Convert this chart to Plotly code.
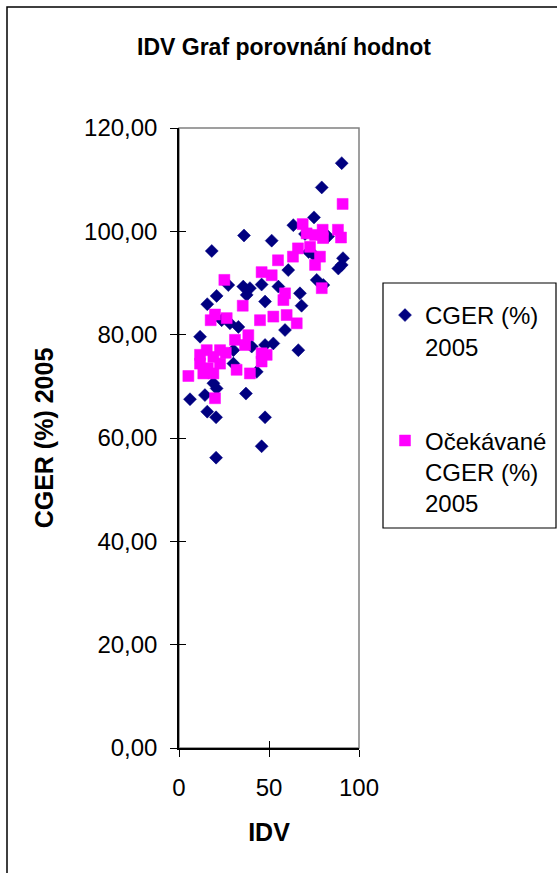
import plotly.graph_objects as go

# ---- data ----
cger_idv = [90.4, 79.3, 75.0, 63.5, 51.5, 91.1, 82.8, 18.2, 36.1,
            88.5, 90.4, 60.7, 76.5, 80.2, 55.2, 67.2, 68.1, 58.9, 52.4, 66.3, 47.8,
            27.4, 35.7, 39.4, 37.6, 45.9, 20.9, 15.7, 28.3, 33.0, 11.7, 23.7, 30.2, 40.4, 47.8,
            19.1, 20.9, 6.1, 14.4, 37.2, 15.7, 20.6, 47.8, 45.9, 20.6, 43.2, 30.2,
            70.0, 72.0, 75.6]
cger_val = [113.2, 108.5, 102.7, 101.2, 98.2, 94.8, 99.0, 96.2, 99.2,
            92.8, 93.5, 92.5, 90.6, 89.6, 89.3, 88.0, 85.6, 80.9, 78.3, 77.0, 86.4,
            89.6, 89.3, 89.0, 87.7, 89.7, 87.5, 85.9, 82.2, 81.5, 79.6, 82.8, 77.0, 77.7, 78.0,
            70.6, 69.6, 67.5, 68.3, 68.6, 65.1, 64.0, 64.0, 58.4, 56.2, 72.8, 74.4,
            99.5, 96.0, 95.2]

exp_idv = [90.9, 68.7, 88.3, 90.0, 79.8, 80.0, 70.9, 75.6, 66.1, 72.8, 63.3, 78.3, 55.0, 75.6,
           45.9, 51.5, 58.9, 58.0, 79.3, 52.4, 59.8, 65.4, 48.7,
           25.2, 35.4, 45.0, 20.0, 17.6, 26.5, 31.1, 38.5, 36.7, 15.4, 22.8, 11.7, 19.1, 45.9,
           5.2, 20.0, 32.0, 39.4, 13.5, 19.1, 11.7, 22.8, 45.9, 16.0, 26.0]
exp_val = [105.3, 101.4, 100.3, 98.8, 100.3, 98.7, 99.6, 99.3, 96.7, 97.0, 95.1, 95.1, 94.4, 93.5,
           92.1, 91.5, 88.0, 86.7, 89.0, 83.5, 83.8, 82.2, 76.1,
           90.6, 85.6, 82.8, 83.9, 82.8, 83.2, 79.0, 79.9, 78.0, 77.0, 77.0, 76.1, 75.7, 76.4,
           72.0, 67.7, 73.2, 72.5, 72.5, 72.5, 74.4, 74.4, 74.8, 73.5, 76.5]

series_names = ["CGER (%)<br>2005", "Očekávané<br>CGER (%)<br>2005"]
x_ticks = [0, 50, 100]
y_ticks = [0, 20, 40, 60, 80, 100, 120]

FONT = "Liberation Sans, Arial, sans-serif"
W, H = 557, 873
L, R, T, B = 179, 198, 128, 125
PW, PH = W - L - R, H - T - B


def px_x(p):
    return (p - L) / PW


def px_y(p):
    return (H - B - p) / PH


fig = go.Figure()
fig.add_trace(go.Scatter(
    x=cger_idv, y=cger_val, mode="markers", name=series_names[0],
    legendgroup="a",
    marker=dict(symbol="diamond", size=10, color="#000080",
                line=dict(width=0.5, color="#000080"))))
fig.add_trace(go.Scatter(
    x=exp_idv, y=exp_val, mode="markers", name=series_names[1],
    legendgroup="b",
    marker=dict(symbol="square", size=11, color="#FF00FF",
                line=dict(width=0.5, color="#FF00FF"))))
# invisible trace so the overlay (inside-tick) axes get drawn
fig.add_trace(go.Scatter(x=[None], y=[None], xaxis="x2", yaxis="y2",
                         showlegend=False, hoverinfo="skip"))

fig.update_layout(
    width=W, height=H,
    margin=dict(l=L, r=R, t=T, b=B, autoexpand=False),
    paper_bgcolor="white", plot_bgcolor="white",
    separators=", ",
    font=dict(family=FONT, color="black", size=24),
    title=dict(text="<b>IDV Graf porovnání hodnot</b>",
               font=dict(family=FONT, size=23, color="black"),
               x=284 / W, xanchor="center", xref="container",
               y=1 - 47 / H, yanchor="middle", yref="container"),
    xaxis=dict(range=[0, 100], tickvals=x_ticks, ticks="outside", ticklen=7,
               tickcolor="black", tickwidth=1.3,
               showline=True, linecolor="black", linewidth=1.5,
               showgrid=False, zeroline=False,
               tickfont=dict(size=24), ticklabelstandoff=10,
               title=dict(text="<b>IDV</b>", font=dict(size=25), standoff=24)),
    yaxis=dict(range=[0, 120], tickvals=y_ticks, tickformat=".2f",
               ticks="outside", ticklen=7, tickcolor="black", tickwidth=1.3,
               showline=True, linecolor="black", linewidth=1.5,
               showgrid=False, zeroline=False,
               tickfont=dict(size=24), ticklabelstandoff=8,
               title=dict(text="<b>CGER (%) 2005</b>", font=dict(size=25), standoff=23)),
    xaxis2=dict(range=[0, 100], tickvals=x_ticks, overlaying="x", side="bottom",
                anchor="y", ticks="inside", ticklen=7, tickcolor="black", tickwidth=1.3,
                showticklabels=False, showgrid=False, zeroline=False, showline=False),
    yaxis2=dict(range=[0, 120], tickvals=y_ticks, overlaying="y", side="left",
                anchor="x", ticks="inside", ticklen=7, tickcolor="black", tickwidth=1.3,
                showticklabels=False, showgrid=False, zeroline=False, showline=False),
    legend=dict(x=px_x(385), xanchor="left", y=px_y(293), yanchor="top",
                font=dict(family=FONT, size=24, color="black"),
                bgcolor="rgba(0,0,0,0)", borderwidth=0,
                traceorder="grouped", tracegroupgap=60, valign="top",
                itemwidth=30),
    shapes=[
        # outer chart border
        dict(type="rect", xref="paper", yref="paper",
             x0=px_x(7), x1=px_x(W + 5), y0=px_y(H + 5), y1=px_y(7),
             line=dict(color="black", width=1.5), layer="below"),
        # plot-area border (grey top/right)
        dict(type="rect", xref="paper", yref="paper", x0=0, x1=1, y0=0, y1=1,
             line=dict(color="#808080", width=1.5), layer="below"),
        # legend box
        dict(type="rect", xref="paper", yref="paper",
             x0=px_x(383), x1=px_x(556), y0=px_y(528), y1=px_y(283),
             line=dict(color="black", width=1.2), layer="below"),
    ],
)

fig.write_html("out.html")
